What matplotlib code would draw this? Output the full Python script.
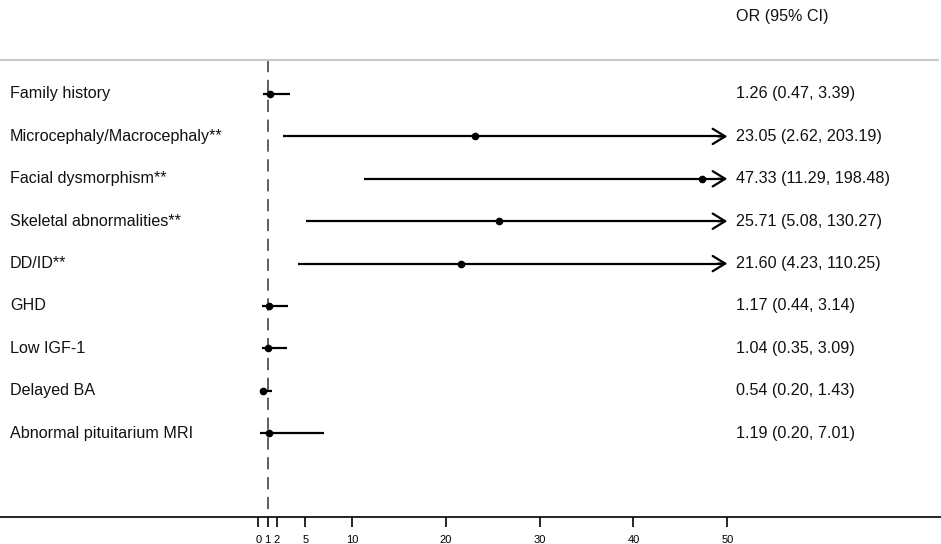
import matplotlib
matplotlib.use("Agg")
import matplotlib.pyplot as plt
from matplotlib.lines import Line2D

labels = ["Family history", "Microcephaly/Macrocephaly**", "Facial dysmorphism**",
          "Skeletal abnormalities**", "DD/ID**", "GHD", "Low IGF-1", "Delayed BA",
          "Abnormal pituitarium MRI"]
or_vals = [1.26, 23.05, 47.33, 25.71, 21.60, 1.17, 1.04, 0.54, 1.19]
lower = [0.47, 2.62, 11.29, 5.08, 4.23, 0.44, 0.35, 0.20, 0.20]
upper = [3.39, 203.19, 198.48, 130.27, 110.25, 3.14, 3.09, 1.43, 7.01]
ticks = [0, 1, 2, 5, 10, 20, 30, 40, 50]
xmax_plot = 50

plt.rcParams['font.family'] = ['Liberation Sans', 'DejaVu Sans']

W, H = 941, 544
fig = plt.figure(figsize=(W / 100, H / 100), dpi=100)
top_px, bot_px = 60, 517
ax = fig.add_axes([0, 1 - bot_px / H, 1, (bot_px - top_px) / H])

px0, ppu = 258.3, 9.38
ax.set_xlim(-px0 / ppu, (W - px0) / ppu)
row0, sp = 94, 42.4
ytop, ybot = (top_px - row0) / sp, (bot_px - row0) / sp
ax.set_ylim(ybot, ytop)

for s in ["top", "left", "right"]:
    ax.spines[s].set_visible(False)
ax.spines["bottom"].set_linewidth(1.2)
ax.set_yticks([])
ax.set_xticks(ticks)
ax.set_xticklabels([str(t) for t in ticks], fontsize=8)
ax.tick_params(axis="x", direction="out", length=7, width=1.2, pad=6)

ax.plot([1, 1], [ytop, ybot], color="#333333", lw=1.1, dashes=(8, 5))

fs = 11.6
for i, (lab, o, lo, hi) in enumerate(zip(labels, or_vals, lower, upper)):
    if hi > xmax_plot:
        ax.plot([lo, xmax_plot - 0.3], [i, i], color="black", lw=1.6, solid_capstyle="butt")
        ax.annotate("", xy=(xmax_plot, i), xytext=(xmax_plot - 1, i),
                    arrowprops=dict(arrowstyle="->,head_length=0.9,head_width=0.55",
                                    color="black", lw=1.6, shrinkA=0, shrinkB=0))
    else:
        ax.plot([lo, hi], [i, i], color="black", lw=1.6, solid_capstyle="butt")
    ax.plot(o, i, "o", color="black", ms=4.5)
    ax.text(10 / ppu - px0 / ppu, i, lab, ha="left", va="center", fontsize=fs, color="#111111")
    ax.text((736 - px0) / ppu, i, f"{o:.2f} ({lo:.2f}, {hi:.2f})", ha="left", va="center",
            fontsize=fs, color="#111111")

fig.text(736 / W, 1 - 16 / H, "OR (95% CI)", ha="left", va="center", fontsize=fs, color="#111111")
fig.add_artist(Line2D([0, 938 / W], [1 - top_px / H, 1 - top_px / H], color="#c8c8c8", lw=1.5))

fig.savefig("out.png", dpi=100)
